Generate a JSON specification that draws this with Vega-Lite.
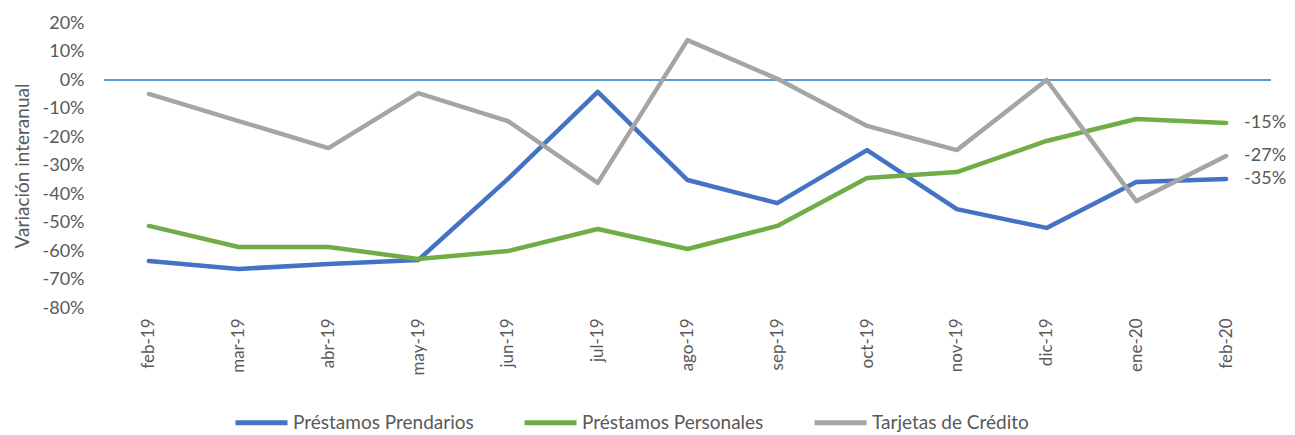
{
  "$schema": "https://vega.github.io/schema/vega-lite/v6.json",
  "autosize": "none",
  "width": 1167,
  "height": 285,
  "padding": {"left": 104, "top": 23, "right": 24, "bottom": 127},
  "background": "white",
  "config": {
    "view": {"stroke": null},
    "font": "Lato",
    "locale": {"number": {"decimal": ".", "thousands": ",", "grouping": [3], "currency": ["$", ""], "minus": "-"}}
  },
  "data": {
    "values": [
      {"mes": "feb-19", "serie": "Préstamos Prendarios", "valor": -0.635},
      {"mes": "mar-19", "serie": "Préstamos Prendarios", "valor": -0.663},
      {"mes": "abr-19", "serie": "Préstamos Prendarios", "valor": -0.646},
      {"mes": "may-19", "serie": "Préstamos Prendarios", "valor": -0.632},
      {"mes": "jun-19", "serie": "Préstamos Prendarios", "valor": -0.347},
      {"mes": "jul-19", "serie": "Préstamos Prendarios", "valor": -0.042},
      {"mes": "ago-19", "serie": "Préstamos Prendarios", "valor": -0.351},
      {"mes": "sep-19", "serie": "Préstamos Prendarios", "valor": -0.432},
      {"mes": "oct-19", "serie": "Préstamos Prendarios", "valor": -0.246},
      {"mes": "nov-19", "serie": "Préstamos Prendarios", "valor": -0.453},
      {"mes": "dic-19", "serie": "Préstamos Prendarios", "valor": -0.519},
      {"mes": "ene-20", "serie": "Préstamos Prendarios", "valor": -0.358},
      {"mes": "feb-20", "serie": "Préstamos Prendarios", "valor": -0.347},
      {"mes": "feb-19", "serie": "Préstamos Personales", "valor": -0.512},
      {"mes": "mar-19", "serie": "Préstamos Personales", "valor": -0.586},
      {"mes": "abr-19", "serie": "Préstamos Personales", "valor": -0.586},
      {"mes": "may-19", "serie": "Préstamos Personales", "valor": -0.628},
      {"mes": "jun-19", "serie": "Préstamos Personales", "valor": -0.600},
      {"mes": "jul-19", "serie": "Préstamos Personales", "valor": -0.523},
      {"mes": "ago-19", "serie": "Préstamos Personales", "valor": -0.593},
      {"mes": "sep-19", "serie": "Préstamos Personales", "valor": -0.512},
      {"mes": "oct-19", "serie": "Préstamos Personales", "valor": -0.344},
      {"mes": "nov-19", "serie": "Préstamos Personales", "valor": -0.323},
      {"mes": "dic-19", "serie": "Préstamos Personales", "valor": -0.214},
      {"mes": "ene-20", "serie": "Préstamos Personales", "valor": -0.137},
      {"mes": "feb-20", "serie": "Préstamos Personales", "valor": -0.151},
      {"mes": "feb-19", "serie": "Tarjetas de Crédito", "valor": -0.049},
      {"mes": "mar-19", "serie": "Tarjetas de Crédito", "valor": -0.144},
      {"mes": "abr-19", "serie": "Tarjetas de Crédito", "valor": -0.239},
      {"mes": "may-19", "serie": "Tarjetas de Crédito", "valor": -0.046},
      {"mes": "jun-19", "serie": "Tarjetas de Crédito", "valor": -0.144},
      {"mes": "jul-19", "serie": "Tarjetas de Crédito", "valor": -0.361},
      {"mes": "ago-19", "serie": "Tarjetas de Crédito", "valor": 0.14},
      {"mes": "sep-19", "serie": "Tarjetas de Crédito", "valor": 0.004},
      {"mes": "oct-19", "serie": "Tarjetas de Crédito", "valor": -0.161},
      {"mes": "nov-19", "serie": "Tarjetas de Crédito", "valor": -0.246},
      {"mes": "dic-19", "serie": "Tarjetas de Crédito", "valor": 0.0},
      {"mes": "ene-20", "serie": "Tarjetas de Crédito", "valor": -0.425},
      {"mes": "feb-20", "serie": "Tarjetas de Crédito", "valor": -0.267}
    ]
  },
  "encoding": {
    "x": {
      "field": "mes", "type": "ordinal",
      "sort": ["feb-19","mar-19","abr-19","may-19","jun-19","jul-19","ago-19","sep-19","oct-19","nov-19","dic-19","ene-20","feb-20"],
      "axis": {"title": null, "labelAngle": -90, "labelFontSize": 17, "labelColor": "#595959", "labelPadding": 10, "ticks": false, "domain": false, "grid": false}
    },
    "y": {
      "field": "valor", "type": "quantitative",
      "scale": {"domain": [-0.8, 0.2], "nice": false},
      "axis": {"title": "Variación interanual", "titleFontSize": 19, "titleFontWeight": "normal", "titleColor": "#595959", "titlePadding": 10,
        "values": [-0.8,-0.7,-0.6,-0.5,-0.4,-0.3,-0.2,-0.1,0,0.1,0.2],
        "format": ".0%", "labelFontSize": 18, "labelColor": "#595959", "labelPadding": 20, "ticks": false, "domain": false, "grid": false}
    }
  },
  "layer": [
    {
      "mark": {"type": "rule", "color": "#5B9BD5", "strokeWidth": 1.5},
      "encoding": {"y": {"datum": 0}, "x": null}
    },
    {
      "mark": {"type": "line", "strokeWidth": 4.5, "strokeCap": "round", "strokeJoin": "round"},
      "encoding": {
        "color": {
          "field": "serie", "type": "nominal",
          "scale": {"domain": ["Préstamos Prendarios", "Préstamos Personales", "Tarjetas de Crédito"], "range": ["#4472C4", "#70AD47", "#A5A5A5"]},
          "legend": {"title": null, "orient": "none", "legendX": 129, "legendY": 371, "direction": "horizontal",
            "symbolType": "stroke", "symbolSize": 2704, "symbolStrokeWidth": 5, "labelFontSize": 19, "labelColor": "#595959",
            "labelOffset": 3, "labelLimit": 400, "columnPadding": 40}
        }
      }
    },
    {
      "transform": [{"filter": "datum.mes == 'feb-20'"}],
      "mark": {"type": "text", "align": "left", "dx": 18, "fontSize": 18, "color": "#595959", "baseline": "middle"},
      "encoding": {"text": {"field": "valor", "type": "quantitative", "format": ".0%"}}
    }
  ]
}
